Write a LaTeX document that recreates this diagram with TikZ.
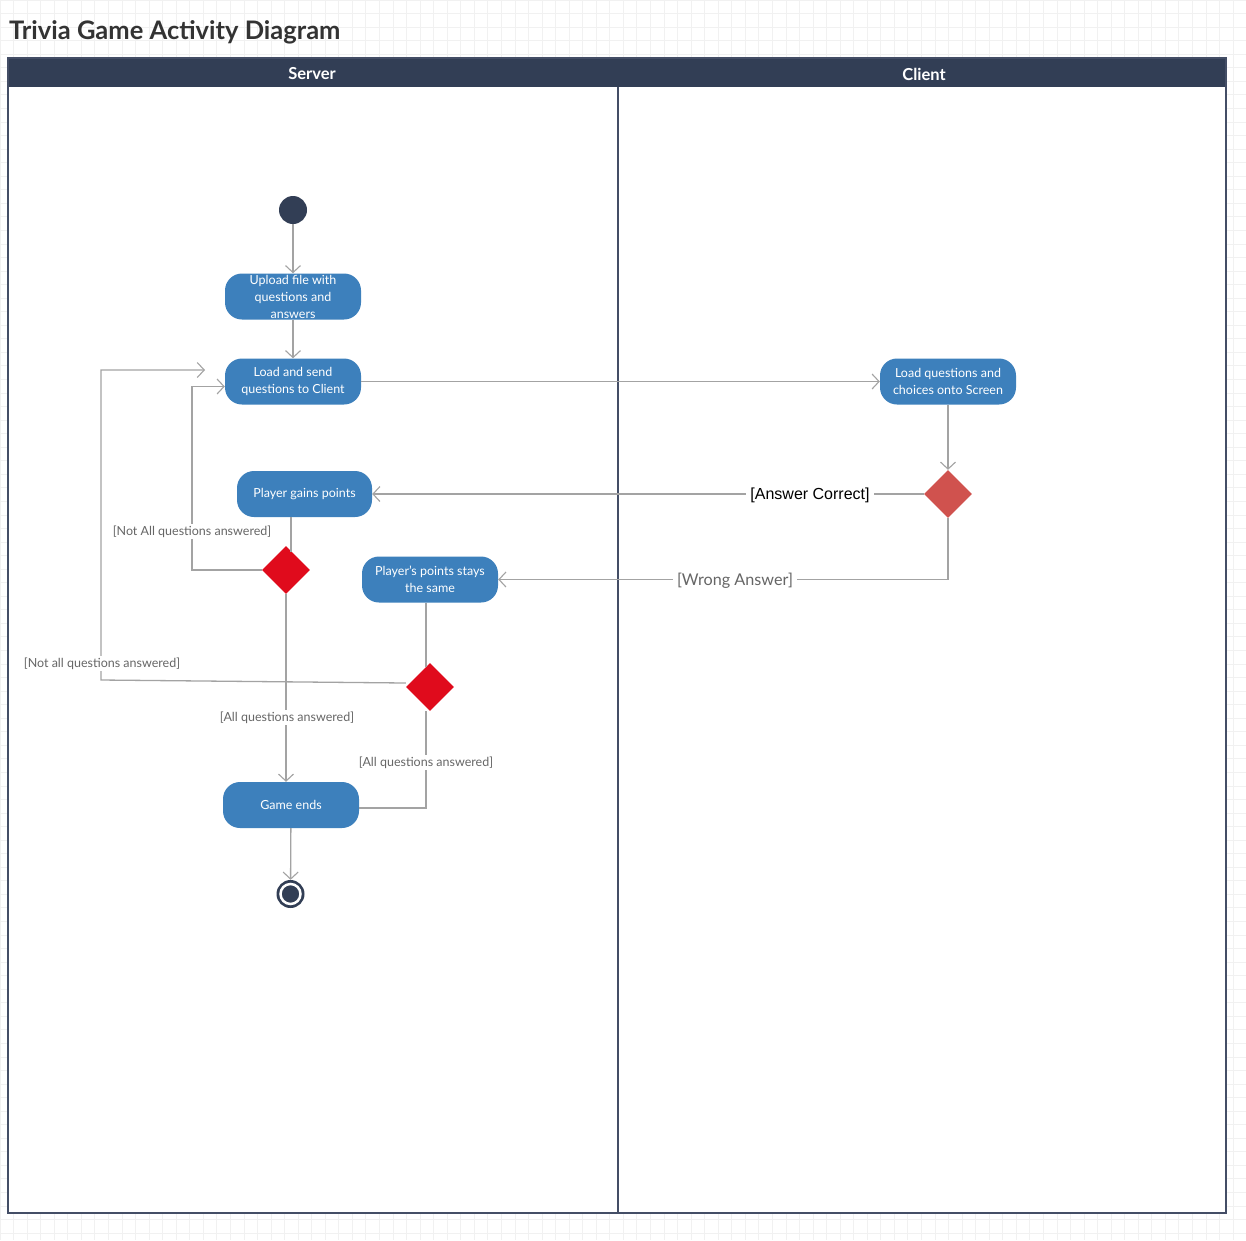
\documentclass[tikz,border=0pt]{standalone}
\usepackage{fontspec}
\setmainfont{Lato}
\newfontfamily\arialf{Liberation Sans}
\usetikzlibrary{arrows.meta,shapes.geometric}
\definecolor{navy}{HTML}{323E55}
\definecolor{poolline}{HTML}{444E66}
\definecolor{actblue}{HTML}{3D80BC}
\definecolor{decred}{HTML}{E00B1C}
\definecolor{decsoft}{HTML}{D0524E}
\definecolor{linegray}{HTML}{A3A3A3}
\definecolor{labelgray}{HTML}{666666}
\definecolor{titlegray}{HTML}{333333}
\definecolor{gridc}{HTML}{F1F1F1}
\tikzset{
  act/.style={rectangle, rounded corners=17pt, fill=actblue, text=white,
    minimum width=136pt, minimum height=46pt, inner sep=0pt, align=center,
    font=\fontsize{12.5}{17}\selectfont},
  dec/.style={diamond, fill=decred, minimum width=48pt, minimum height=48pt, inner sep=0pt},
  conn/.style={draw=linegray, line width=1.3pt},
  arr/.style={conn, -{Straight Barb[length=7pt,width=15pt,line width=1.1pt]}},
  guard/.style={fill=white, text=labelgray, inner sep=2pt, font=\fontsize{12.5}{15}\selectfont},
  bigguard/.style={fill=white, inner sep=4pt, font=\fontsize{16.2}{19}\selectfont},
  lanehead/.style={text=white, font=\fontsize{16.5}{20}\selectfont\bfseries},
}
\begin{document}
\begin{tikzpicture}[x=1pt,y=-1pt]
\useasboundingbox (0,0) rectangle (1246,1240);
\fill[white] (0,0) rectangle (1246,1240);
% background grid
\foreach \i in {0,...,92} {\draw[gridc, line width=0.8pt] (\i*13.55,0) -- (\i*13.55,1240);}
\foreach \j in {0,...,92} {\draw[gridc, line width=0.8pt] (0,\j*13.55) -- (1246,\j*13.55);}
% title
\node[anchor=base west, inner sep=0pt, text=titlegray, font=\fontsize{25.5}{30}\selectfont\bfseries] (title) at (9,39) {Trivia Game Activity Diagram};
% pool
\fill[white] (8,58) rectangle (1226,1213);
\fill[navy] (8,58) rectangle (1226,87);
\draw[poolline, line width=1.5pt] (8,58) rectangle (1226,1213);
\draw[poolline, line width=1.5pt] (618,87) -- (618,1213);
\node[lanehead] (server) at (312,74) {Server};
\node[lanehead] (client) at (924,74) {Client};
% nodes
\node[circle, fill=navy, minimum size=28pt, inner sep=0pt] (start) at (293,210) {};
\node[act] (upload) at (293,296.5) {Upload file with\\questions and\\answers};
\node[act] (load) at (293,381.5) {Load and send\\questions to Client};
\node[act] (screen) at (948,381.5) {Load questions and\\choices onto Screen};
\node[dec, fill=decsoft] (dc) at (948,494) {};
\node[act, minimum width=135pt] (gain) at (304.5,494) {Player gains points};
\node[dec] (d1) at (286,570) {};
\node[act] (same) at (430,579.5) {Player's points stays\\the same};
\node[dec] (d2) at (430,687) {};
\node[act] (ends) at (291,805) {Game ends};
\node[circle, fill=navy, minimum size=28pt, inner sep=0pt] (stop) at (290.5,894) {};
\node[circle, draw=white, line width=2.5pt, minimum size=20pt, inner sep=0pt] (stopring) at (290.5,894) {};
% coordinates
\coordinate (k1) at (192,570);
\coordinate (k2) at (101,680);
\coordinate (k3) at (426,808);
\coordinate (g1) at (291,552);
\coordinate (g2) at (426,667);
% connectors
\draw[arr] (start) -- (upload);
\draw[arr] (upload) -- (load);
\draw[arr] (load) -- (screen);
\draw[arr] (screen) -- (dc);
\draw[arr] (dc) -- (gain);
\node[bigguard, text=black, font=\arialf\fontsize{16}{19}\selectfont] (lac) at (810,495.5) {[Answer Correct]};
\draw[arr] (dc.south) |- (same);
\node[bigguard, text=labelgray] (lwa) at (735,580.5) {[Wrong Answer]};
\draw[conn] (gain.south -| g1) -- (g1);
\draw[arr] (d1.west) -- (k1) |- ([yshift=-5pt]load.west);
\node[guard] (l1) at (192,531.5) {[Not All questions answered]};
\draw[arr] (d1.south) -- (d1.south |- ends.north);
\node[guard] (l2) at (287,717.5) {[All questions answered]};
\draw[conn] (same.south -| g2) -- (g2);
\draw[arr] ([yshift=4pt]d2.west) -- (k2) |- (205,370);
\node[guard] (l3) at (102,663.5) {[Not all questions answered]};
\draw[conn] ([xshift=-4pt]d2.south) -- (k3) -- (k3 -| ends.east);
\node[guard] (l4) at (426,762.5) {[All questions answered]};
\draw[arr] (ends) -- (stop);
\end{tikzpicture}
\end{document}
